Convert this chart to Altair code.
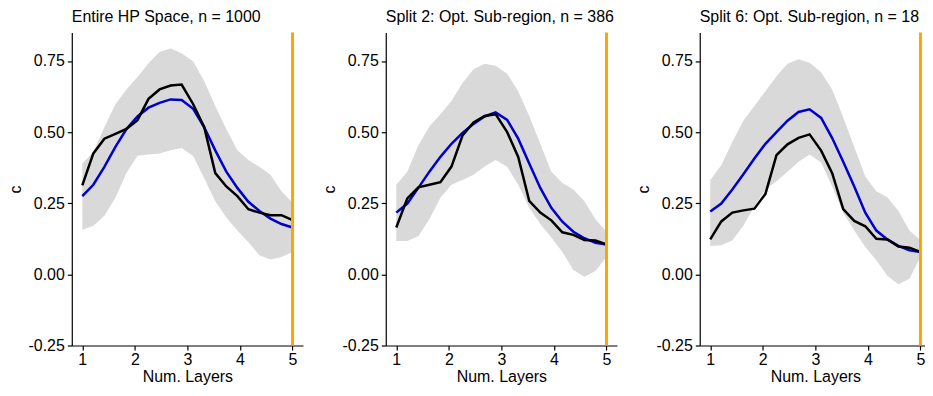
import altair as alt
import pandas as pd

x_vals = [1.0, 1.21, 1.42, 1.63, 1.84, 2.05, 2.26, 2.47, 2.68, 2.89,
          3.11, 3.32, 3.53, 3.74, 3.95, 4.16, 4.37, 4.58, 4.79, 5.0]

titles = ["Entire HP Space, n = 1000",
          "Split 2: Opt. Sub-region, n = 386",
          "Split 6: Opt. Sub-region, n = 18"]

black1 = [0.313, 0.425, 0.477, 0.494, 0.511, 0.542, 0.617, 0.650, 0.664, 0.667,
          0.598, 0.517, 0.356, 0.309, 0.275, 0.229, 0.217, 0.208, 0.208, 0.191]
blue1 = [0.275, 0.315, 0.378, 0.448, 0.511, 0.555, 0.586, 0.603, 0.615, 0.613,
         0.582, 0.517, 0.436, 0.361, 0.304, 0.255, 0.223, 0.196, 0.177, 0.165]
upper1 = [0.390, 0.430, 0.517, 0.598, 0.650, 0.694, 0.742, 0.782, 0.794, 0.777,
          0.748, 0.679, 0.592, 0.511, 0.436, 0.402, 0.378, 0.350, 0.292, 0.252]
lower1 = [0.156, 0.171, 0.206, 0.269, 0.356, 0.417, 0.421, 0.425, 0.436, 0.444,
          0.416, 0.338, 0.257, 0.200, 0.154, 0.113, 0.067, 0.052, 0.061, 0.079]

black2 = [0.165, 0.267, 0.306, 0.315, 0.324, 0.379, 0.488, 0.534, 0.557, 0.563,
          0.500, 0.413, 0.258, 0.217, 0.190, 0.148, 0.139, 0.121, 0.119, 0.105]
blue2 = [0.217, 0.249, 0.304, 0.361, 0.413, 0.459, 0.497, 0.529, 0.555, 0.569,
         0.543, 0.477, 0.390, 0.304, 0.234, 0.185, 0.150, 0.127, 0.111, 0.105]
upper2 = [0.315, 0.361, 0.454, 0.520, 0.563, 0.609, 0.673, 0.721, 0.740, 0.733,
          0.705, 0.644, 0.557, 0.459, 0.361, 0.321, 0.298, 0.257, 0.194, 0.150]
lower2 = [0.117, 0.117, 0.134, 0.194, 0.269, 0.315, 0.332, 0.350, 0.379, 0.402,
          0.378, 0.315, 0.234, 0.177, 0.130, 0.079, 0.015, -0.008, 0.012, 0.062]

black3 = [0.123, 0.186, 0.217, 0.225, 0.231, 0.283, 0.419, 0.457, 0.480, 0.492,
          0.435, 0.356, 0.229, 0.188, 0.169, 0.125, 0.123, 0.098, 0.094, 0.079]
blue3 = [0.221, 0.249, 0.298, 0.352, 0.407, 0.459, 0.500, 0.540, 0.571, 0.580,
         0.550, 0.479, 0.396, 0.309, 0.217, 0.154, 0.123, 0.100, 0.085, 0.079]
upper3 = [0.332, 0.384, 0.465, 0.540, 0.592, 0.644, 0.696, 0.740, 0.756, 0.744,
          0.710, 0.650, 0.552, 0.448, 0.344, 0.292, 0.271, 0.223, 0.154, 0.120]
lower3 = [0.100, 0.102, 0.119, 0.171, 0.240, 0.298, 0.327, 0.361, 0.396, 0.421,
          0.393, 0.309, 0.217, 0.154, 0.096, 0.050, -0.005, -0.035, -0.015, 0.062]

vline_x = [5]
x_ticks = [1, 2, 3, 4, 5]
y_ticks = [-0.25, 0.0, 0.25, 0.5, 0.75]

FONT = "Liberation Sans"

panels = [
    (titles[0], black1, blue1, upper1, lower1),
    (titles[1], black2, blue2, upper2, lower2),
    (titles[2], black3, blue3, upper3, lower3),
]

charts = []
for title, blk, blu, up, lo in panels:
    df = pd.DataFrame({"x": x_vals, "black": blk, "blue": blu, "upper": up, "lower": lo})
    xs = alt.Scale(domain=[0.8, 5.2], nice=False, zero=False)
    ys = alt.Scale(domain=[-0.25, 0.85], nice=False, zero=False)
    xax = alt.Axis(values=x_ticks, format="d", title="Num. Layers", grid=False)
    yax = alt.Axis(values=y_ticks, title="c", grid=False,
                   labelExpr="datum.value < 0 ? '-' + format(-datum.value, '.2f') : format(datum.value, '.2f')")
    base = alt.Chart(df)
    band = base.mark_area(color="#D9D9D9", opacity=1).encode(
        x=alt.X("x:Q", scale=xs, axis=xax),
        y=alt.Y("lower:Q", scale=ys, axis=yax),
        y2="upper:Q",
    )
    blue_line = base.mark_line(color="#0000CD", strokeWidth=2.5).encode(
        x=alt.X("x:Q", scale=xs), y=alt.Y("blue:Q", scale=ys))
    black_line = base.mark_line(color="#000000", strokeWidth=2.5).encode(
        x=alt.X("x:Q", scale=xs), y=alt.Y("black:Q", scale=ys))
    rule = alt.Chart(pd.DataFrame({"x": vline_x})).mark_rule(
        color="#FFA500", strokeWidth=3).encode(x=alt.X("x:Q", scale=xs))
    layer = alt.layer(band, blue_line, black_line, rule).properties(
        width=232, height=314,
        title=alt.TitleParams(text=title, anchor="start", frame="group",
                              fontSize=16, font=FONT, fontWeight="normal",
                              color="black", offset=6),
    )
    charts.append(layer)

chart = alt.hconcat(*charts, spacing=19).properties(
    padding={"left": 0, "top": 0, "right": -6, "bottom": 0}
).configure_view(strokeWidth=0).configure_axis(
    domainColor="black", domainWidth=1.2, tickColor="black", tickWidth=1.2,
    tickSize=4.5, labelFont=FONT, labelFontSize=16, labelColor="black",
    titleFont=FONT, titleFontSize=16, titleColor="black", titleFontWeight="normal",
).configure_axisY(titlePadding=4, labelPadding=3).configure_axisX(titlePadding=1, labelPadding=2)

chart.save("out.html", embed_options={"renderer": "svg", "actions": False})
